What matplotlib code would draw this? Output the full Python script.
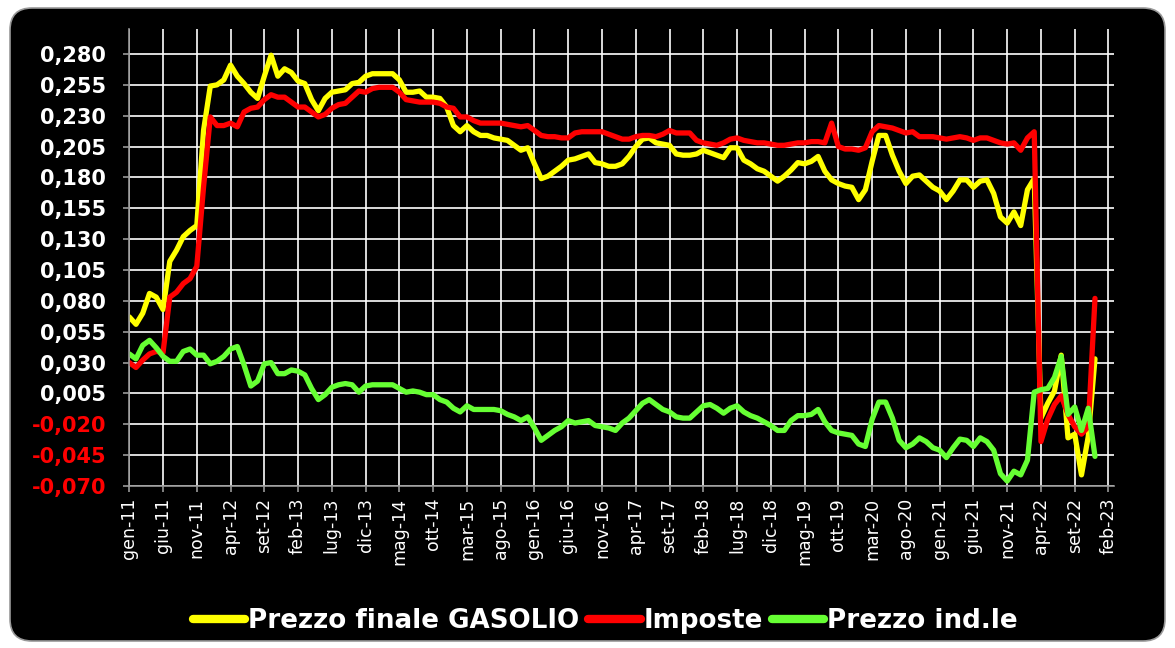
import matplotlib
matplotlib.use("Agg")
import matplotlib.pyplot as plt
from matplotlib.patches import FancyBboxPatch
from matplotlib.ticker import FuncFormatter

# Variazioni mensili gen-11 .. dic-22 (euro/litro)
gasolio = [
    0.067, 0.061, 0.070, 0.086, 0.083, 0.073, 0.112, 0.121, 0.132, 0.137,
    0.141, 0.218, 0.254, 0.255, 0.259, 0.271, 0.262, 0.256, 0.249, 0.244,
    0.262, 0.279, 0.262, 0.268, 0.265, 0.258, 0.256, 0.243, 0.234, 0.244,
    0.249, 0.250, 0.251, 0.256, 0.257, 0.262, 0.264, 0.264, 0.264, 0.264,
    0.259, 0.249, 0.249, 0.250, 0.245, 0.245, 0.244, 0.237, 0.222, 0.217,
    0.222, 0.217, 0.214, 0.214, 0.212, 0.211, 0.210, 0.206, 0.202, 0.204,
    0.191, 0.179, 0.181, 0.185, 0.189, 0.194, 0.195, 0.197, 0.199, 0.192,
    0.191, 0.189, 0.189, 0.191, 0.197, 0.205, 0.211, 0.212, 0.208, 0.207,
    0.206, 0.199, 0.198, 0.198, 0.199, 0.202, 0.200, 0.198, 0.196, 0.204,
    0.204, 0.194, 0.191, 0.187, 0.185, 0.181, 0.177, 0.181, 0.186, 0.192,
    0.191, 0.193, 0.197, 0.185, 0.178, 0.175, 0.173, 0.172, 0.162, 0.170,
    0.193, 0.214, 0.214, 0.198, 0.185, 0.175, 0.181, 0.182, 0.177, 0.172,
    0.169, 0.162, 0.169, 0.178, 0.178, 0.172, 0.177, 0.178, 0.167, 0.148,
    0.143, 0.152, 0.141, 0.170, 0.179, -0.015, -0.003, 0.007, 0.036, -0.031,
    -0.028, -0.061, -0.030, 0.033,
]
imposte = [
    0.030, 0.026, 0.032, 0.037, 0.039, 0.038, 0.083, 0.087, 0.094, 0.098,
    0.108, 0.172, 0.229, 0.222, 0.222, 0.224, 0.221, 0.233, 0.236, 0.237,
    0.243, 0.247, 0.245, 0.245, 0.241, 0.237, 0.237, 0.233, 0.229, 0.231,
    0.236, 0.239, 0.240, 0.245, 0.250, 0.249, 0.252, 0.253, 0.253, 0.253,
    0.249, 0.243, 0.242, 0.241, 0.241, 0.241, 0.240, 0.237, 0.236, 0.229,
    0.229, 0.226, 0.224, 0.224, 0.224, 0.224, 0.223, 0.222, 0.221, 0.222,
    0.218, 0.214, 0.213, 0.213, 0.212, 0.212, 0.216, 0.217, 0.217, 0.217,
    0.217, 0.215, 0.213, 0.211, 0.211, 0.213, 0.214, 0.214, 0.213, 0.215,
    0.218, 0.216, 0.216, 0.216, 0.210, 0.208, 0.207, 0.206, 0.208, 0.211,
    0.212, 0.210, 0.209, 0.208, 0.208, 0.207, 0.206, 0.206, 0.207, 0.208,
    0.208, 0.209, 0.209, 0.208, 0.224, 0.205, 0.203, 0.203, 0.202, 0.204,
    0.217, 0.222, 0.221, 0.220, 0.218, 0.216, 0.217, 0.213, 0.213, 0.213,
    0.212, 0.211, 0.212, 0.213, 0.212, 0.210, 0.212, 0.212, 0.210, 0.208,
    0.207, 0.208, 0.202, 0.212, 0.217, -0.034, -0.016, -0.004, 0.003, -0.012,
    -0.022, -0.028, -0.022, 0.082,
]
industriale = [
    0.037, 0.033, 0.044, 0.048, 0.042, 0.035, 0.031, 0.031, 0.039, 0.041,
    0.036, 0.036, 0.029, 0.031, 0.035, 0.041, 0.043, 0.028, 0.011, 0.015,
    0.029, 0.030, 0.021, 0.021, 0.024, 0.023, 0.020, 0.009, 0.000, 0.004,
    0.010, 0.012, 0.013, 0.012, 0.006, 0.011, 0.012, 0.012, 0.012, 0.012,
    0.009, 0.006, 0.007, 0.006, 0.004, 0.004, 0.000, -0.002, -0.007, -0.010,
    -0.005, -0.008, -0.008, -0.008, -0.008, -0.009, -0.012, -0.014, -0.017, -0.014,
    -0.023, -0.033, -0.029, -0.025, -0.022, -0.017, -0.019, -0.018, -0.017, -0.021,
    -0.022, -0.023, -0.025, -0.019, -0.015, -0.009, -0.003, 0.000, -0.004, -0.008,
    -0.010, -0.014, -0.015, -0.015, -0.010, -0.005, -0.004, -0.007, -0.011, -0.007,
    -0.005, -0.010, -0.013, -0.015, -0.018, -0.021, -0.025, -0.025, -0.017, -0.013,
    -0.013, -0.012, -0.008, -0.018, -0.025, -0.027, -0.028, -0.029, -0.036, -0.038,
    -0.016, -0.002, -0.002, -0.015, -0.033, -0.039, -0.036, -0.031, -0.034, -0.039,
    -0.041, -0.047, -0.039, -0.032, -0.033, -0.038, -0.031, -0.034, -0.041, -0.060,
    -0.066, -0.058, -0.061, -0.049, 0.006, 0.008, 0.009, 0.018, 0.035, -0.012,
    -0.006, -0.025, -0.007, -0.046,
]

x_labels = [
    "gen-11", "giu-11", "nov-11", "apr-12", "set-12", "feb-13", "lug-13",
    "dic-13", "mag-14", "ott-14", "mar-15", "ago-15", "gen-16", "giu-16",
    "nov-16", "apr-17", "set-17", "feb-18", "lug-18", "dic-18", "mag-19",
    "ott-19", "mar-20", "ago-20", "gen-21", "giu-21", "nov-21", "apr-22",
    "set-22", "feb-23",
]
y_ticks = [-0.070, -0.045, -0.020, 0.005, 0.030, 0.055, 0.080, 0.105,
           0.130, 0.155, 0.180, 0.205, 0.230, 0.255, 0.280]

mesi = list(range(len(gasolio)))
x_ticks = [5 * i for i in range(len(x_labels))]

fig = plt.figure(figsize=(11.75, 6.48), dpi=100)
fig.patch.set_facecolor("white")

# pannello nero con angoli arrotondati
pannello = FancyBboxPatch((0.10, 0.07), 11.55, 6.33,
                          boxstyle="round,pad=0,rounding_size=0.22",
                          transform=fig.dpi_scale_trans,
                          facecolor="black", edgecolor="#999999", linewidth=1.2,
                          zorder=-5)
fig.patches.append(pannello)

ax = fig.add_axes([0.110, 0.25, 0.838, 0.7048])
ax.set_facecolor("black")

ax.plot(mesi, gasolio, color="#FFFF00", lw=3.8, label="Prezzo finale GASOLIO",
        solid_joinstyle="round", solid_capstyle="round")
ax.plot(mesi, imposte, color="#FF0000", lw=3.8, label="Imposte",
        solid_joinstyle="round", solid_capstyle="round")
ax.plot(mesi, industriale, color="#66FF33", lw=3.8, label="Prezzo ind.le",
        solid_joinstyle="round", solid_capstyle="round")

ax.set_xlim(0, 145.8)
ax.set_ylim(-0.070, 0.300)
ax.set_xticks(x_ticks)
ax.set_xticklabels(x_labels, rotation=90, fontsize=12.5)
ax.set_yticks(y_ticks)
ax.yaxis.set_major_formatter(FuncFormatter(lambda v, p: f"{v:.3f}".replace(".", ",")))

ax.grid(True, color="white", linewidth=1.2)
ax.set_axisbelow(True)
for s in ["top", "right"]:
    ax.spines[s].set_visible(False)
for s in ["left", "bottom"]:
    ax.spines[s].set_color("#999999")
    ax.spines[s].set_linewidth(1.2)
    ax.spines[s].set_zorder(3)
ax.tick_params(axis="both", color="#999999", labelcolor="white", length=4.5, width=1.2)
ax.tick_params(axis="y", pad=12, labelsize=15)
ax.tick_params(axis="x", pad=4)

fig.canvas.draw()
for lab, v in zip(ax.get_yticklabels(), y_ticks):
    lab.set_fontweight("bold")
    lab.set_color("#FF0000" if v < 0 else "white")

leg = fig.legend(loc="center", bbox_to_anchor=(0.515, 0.042), ncol=3,
                 frameon=False, fontsize=18.8, handlelength=2.0,
                 handletextpad=0.1, columnspacing=0.35)
for t in leg.get_texts():
    t.set_color("white")
    t.set_fontweight("bold")
for h in leg.legend_handles:
    h.set_linewidth(6)
    h.set_solid_capstyle("round")

fig.savefig("out.png", dpi=100, facecolor=fig.get_facecolor())
